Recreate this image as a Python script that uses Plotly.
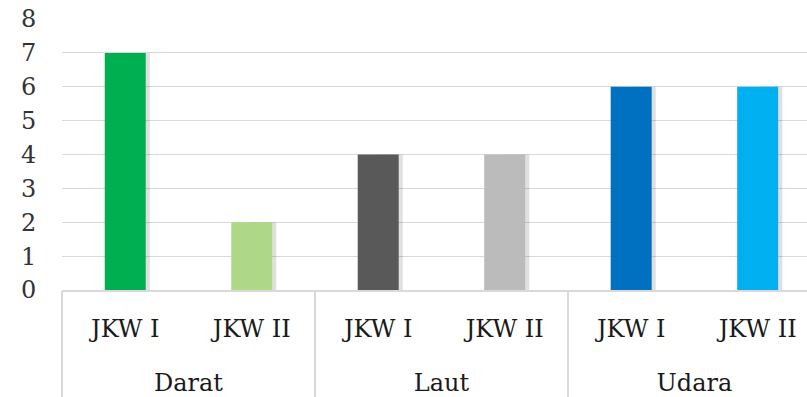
import plotly.graph_objects as go

# Data: number of cases per mode of transport and period
groups = ["Darat", "Darat", "Laut", "Laut", "Udara", "Udara"]
periods = ["JKW I", "JKW II", "JKW I", "JKW II", "JKW I", "JKW II"]
values = [7, 2, 4, 4, 6, 6]
colors = ["#00B050", "#AFD788", "#595959", "#BBBBBB", "#0070C0", "#00B0F0"]
y_ticks = [0, 1, 2, 3, 4, 5, 6, 7, 8]

FONT = "'DejaVu Serif', 'Liberation Serif', serif"
FS = 24
BAR_W = 0.324
GRID = "#D9D9D9"

# unique category keys, shown with the period name only
keys = [f"{g} | {p}" for g, p in zip(groups, periods)]
positions = list(range(len(values)))

# group centres in category index units
group_names = list(dict.fromkeys(groups))
centers = []
for name in group_names:
    idx = [i for i, g in enumerate(groups) if g == name]
    centers.append(sum(idx) / len(idx))
group_size = len(values) // len(group_names)

X_RANGE = [-0.5, 5.39]

fig = go.Figure()

# soft drop shadow to the right of each bar (base axis, drawn underneath)
fig.add_trace(go.Bar(
    x=keys, y=values,
    width=BAR_W * 0.6, offset=-BAR_W / 2 + BAR_W * 0.5,
    marker=dict(color="rgba(0,0,0,0.12)", line=dict(width=0)),
    hoverinfo="skip", showlegend=False,
))
# main bars (on the overlaying group axis, drawn on top)
fig.add_trace(go.Bar(
    x=positions, y=values, xaxis="x2",
    width=BAR_W, offset=-BAR_W / 2,
    marker=dict(color=colors, line=dict(width=0)),
    customdata=periods, hovertext=groups,
    hovertemplate="%{hovertext} %{customdata}: %{y}<extra></extra>",
    showlegend=False,
))

fig.update_layout(
    width=807, height=397,
    margin=dict(l=62, r=0, t=19, b=107),
    paper_bgcolor="white", plot_bgcolor="white",
    barmode="overlay",
    font=dict(family=FONT, size=FS, color="#1a1a1a"),
    xaxis=dict(
        type="category", range=X_RANGE,
        tickvals=keys, ticktext=periods,
        showline=True, linecolor=GRID, linewidth=1.5,
        ticks="outside", ticklen=16, tickcolor="rgba(0,0,0,0)",
        tickfont=dict(family=FONT, size=FS, color="#1a1a1a"),
        showgrid=False,
    ),
    # group names row, with dividers between groups as minor ticks
    xaxis2=dict(
        overlaying="x", anchor="y", side="bottom", type="linear",
        range=X_RANGE, tickvals=centers, ticktext=group_names,
        ticks="outside", ticklen=71, tickcolor="rgba(0,0,0,0)",
        minor=dict(ticks="outside", tick0=-0.5, dtick=group_size,
                   ticklen=110, tickcolor=GRID, tickwidth=1.5, showgrid=False),
        showgrid=False, zeroline=False, showline=False,
        tickfont=dict(family=FONT, size=FS, color="#1a1a1a"),
    ),
    yaxis=dict(
        range=[0, 8], tickvals=y_ticks,
        showgrid=True, gridcolor=GRID, gridwidth=1.3,
        zeroline=False, showline=False,
        ticks="outside", ticklen=20, tickcolor="rgba(0,0,0,0)",
        tickfont=dict(family=FONT, size=FS, color="#333333"),
    ),
)

fig.write_html("out.html")
